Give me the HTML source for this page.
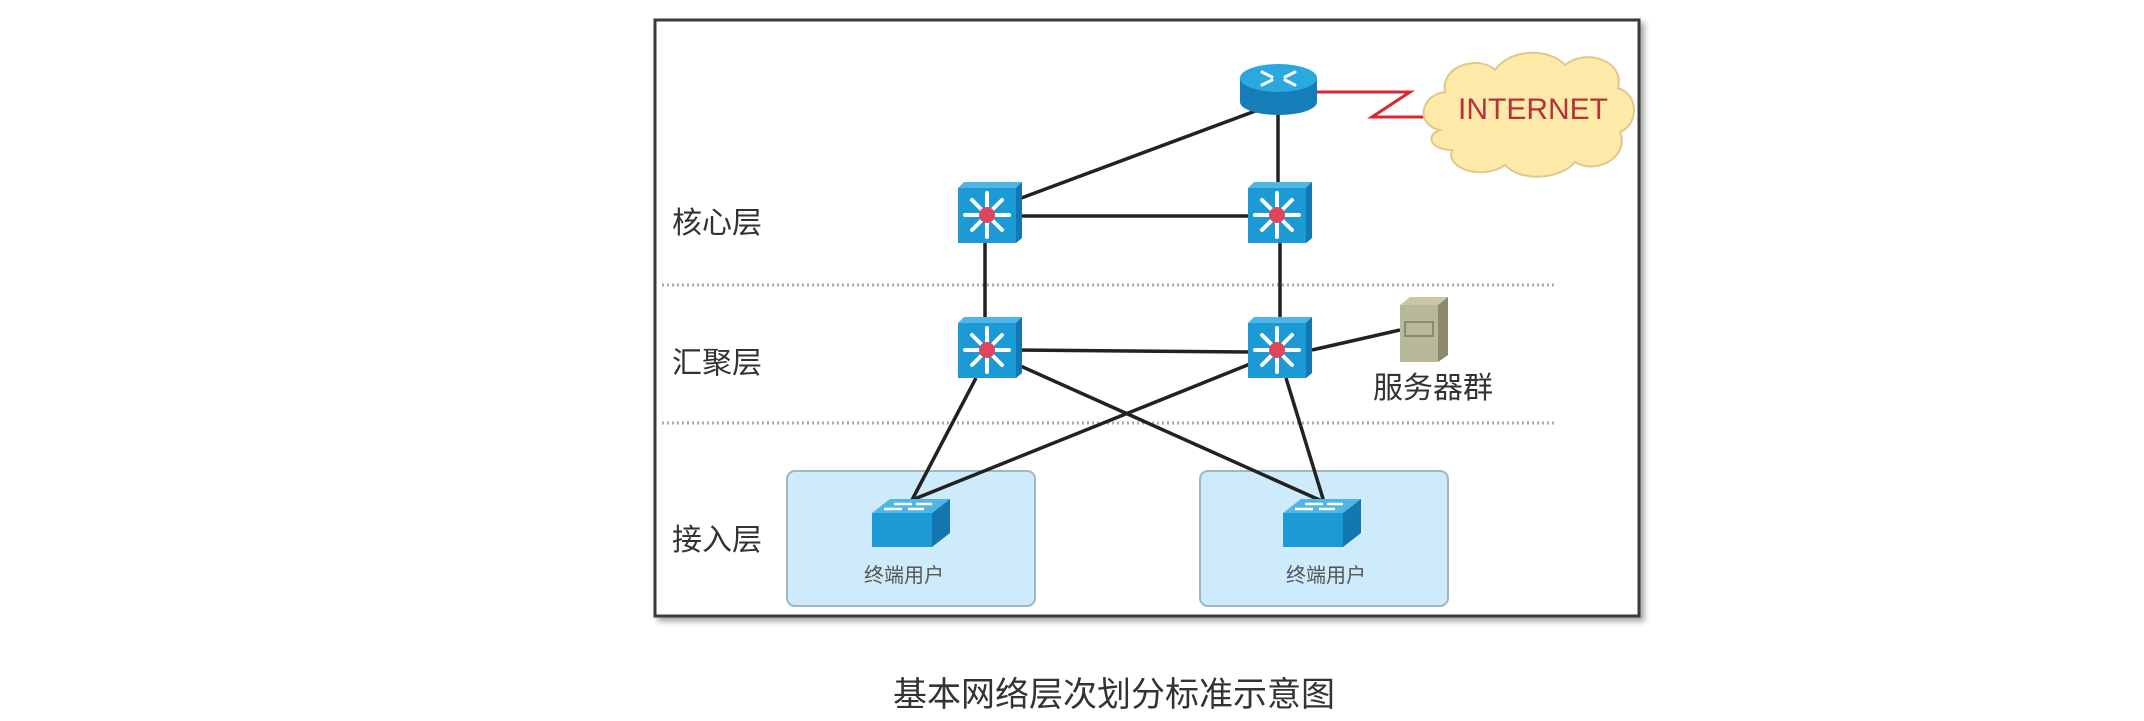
<!DOCTYPE html>
<html><head><meta charset="utf-8"><style>
html,body{margin:0;padding:0;background:#fff;}
svg{display:block;}
text{font-family:"Liberation Sans","Noto Sans CJK SC",sans-serif;}
</style></head><body>
<svg width="2144" height="721" viewBox="0 0 2144 721" xmlns="http://www.w3.org/2000/svg">
<defs>
<filter id="sh" x="-5%" y="-5%" width="115%" height="115%"><feDropShadow dx="4" dy="4" stdDeviation="3" flood-color="#000" flood-opacity="0.35"/></filter>
<g id="sw">
  <polygon points="-30,-24 -24,-30 34,-30 34,26 28,31 28,-24" fill="#4fb6e6"/>
  <polygon points="28,-24 34,-30 34,26 28,31" fill="#1477b0"/>
  <rect x="-30" y="-24" width="58" height="55" fill="#1b9ad6"/>
  <g stroke="#fff" stroke-width="4" stroke-linecap="round">
    <line x1="-1" y1="3" x2="-1" y2="-19"/><line x1="-1" y1="3" x2="-1" y2="25"/>
    <line x1="-1" y1="3" x2="-23" y2="3"/><line x1="-1" y1="3" x2="21" y2="3"/>
    <line x1="-1" y1="3" x2="-16" y2="-12"/><line x1="-1" y1="3" x2="14" y2="18"/>
    <line x1="-1" y1="3" x2="14" y2="-12"/><line x1="-1" y1="3" x2="-16" y2="18"/>
  </g>
  <circle cx="-1" cy="3" r="8" fill="#e0455e"/>
</g>
<g id="asw">
  <polygon points="-34,-8 -16,-22 44,-22 26,-8" fill="#4fb6e6"/>
  <polygon points="26,-8 44,-22 44,12 26,26" fill="#1477b0"/>
  <rect x="-34" y="-8" width="60" height="34" fill="#1b9ad6"/>
  <g stroke="#fff" stroke-width="2.5">
    <line x1="-12" y1="-17" x2="6" y2="-17"/><line x1="10" y1="-17" x2="26" y2="-17"/>
    <line x1="-22" y1="-12" x2="-4" y2="-12"/><line x1="2" y1="-12" x2="18" y2="-12"/>
  </g>
</g>
</defs>

<rect x="655" y="20" width="984" height="596" fill="#fff" stroke="#3a3a3a" stroke-width="3" filter="url(#sh)"/>

<line x1="662" y1="285" x2="1556" y2="285" stroke="#aaa" stroke-width="3" stroke-dasharray="2,3"/>
<line x1="662" y1="423" x2="1556" y2="423" stroke="#aaa" stroke-width="3" stroke-dasharray="2,3"/>

<rect x="787" y="471" width="248" height="135" rx="8" fill="#cdebfb" stroke="#9fb6c4" stroke-width="2"/>
<rect x="1200" y="471" width="248" height="135" rx="8" fill="#cdebfb" stroke="#9fb6c4" stroke-width="2"/>

<g stroke="#222" stroke-width="3.5" fill="none">
  <line x1="1258" y1="110" x2="1016" y2="200"/>
  <line x1="1278" y1="112" x2="1278" y2="185"/>
  <line x1="1016" y1="216" x2="1250" y2="216"/>
  <line x1="985" y1="243" x2="985" y2="320"/>
  <line x1="1280" y1="243" x2="1280" y2="320"/>
  <line x1="1016" y1="350" x2="1250" y2="352"/>
  <line x1="1312" y1="350" x2="1400" y2="330"/>
  <line x1="976" y1="378" x2="912" y2="500"/>
  <line x1="1016" y1="364" x2="1324" y2="502"/>
  <line x1="1250" y1="364" x2="912" y2="500"/>
  <line x1="1286" y1="378" x2="1324" y2="502"/>
</g>

<polyline points="1315,92 1410,92 1372,117 1428,117" fill="none" stroke="#d8282f" stroke-width="3"/>

<g fill="#fde9a8" stroke="#e0c88a" stroke-width="2">
  <path d="M1440,130 C1415,125 1420,95 1445,92 C1440,65 1480,55 1495,70 C1510,48 1550,48 1565,65 C1585,48 1625,60 1618,88 C1640,95 1638,125 1620,132 C1630,158 1595,175 1575,162 C1560,180 1520,182 1505,165 C1485,180 1445,170 1452,150 C1430,150 1425,135 1440,130 Z"/>
</g>
<text x="1533" y="119" font-size="30" fill="#b5333c" text-anchor="middle">INTERNET</text>

<g>
  <rect x="1240" y="78" width="77" height="24" fill="#157eb8"/>
  <ellipse cx="1278.5" cy="102" rx="38.5" ry="13" fill="#157eb8"/>
  <ellipse cx="1278.5" cy="78" rx="38.5" ry="14" fill="#2aa8e0"/>
  <g stroke="#fff" stroke-width="3" stroke-linecap="round">
    <line x1="1262" y1="72" x2="1272" y2="77"/><line x1="1295" y1="72" x2="1285" y2="77"/>
    <line x1="1262" y1="85" x2="1272" y2="80"/><line x1="1295" y1="85" x2="1285" y2="80"/>
  </g>
</g>

<use href="#sw" x="988" y="212"/>
<use href="#sw" x="1278" y="212"/>
<use href="#sw" x="988" y="347"/>
<use href="#sw" x="1278" y="347"/>

<polygon points="1400,305 1410,297 1448,297 1438,305" fill="#c8c8a8"/>
<polygon points="1438,305 1448,297 1448,355 1438,362" fill="#8a8a6a"/>
<rect x="1400" y="305" width="38" height="57" fill="#b8b89a"/>
<rect x="1405" y="322" width="28" height="14" fill="none" stroke="#8a8a70" stroke-width="2"/>
<text x="1433" y="398" font-size="30" fill="#333" text-anchor="middle">服务器群</text>

<use href="#asw" x="906" y="521"/>
<use href="#asw" x="1317" y="521"/>

<text x="904" y="582" font-size="20" fill="#555" text-anchor="middle">终端用户</text>
<text x="1326" y="582" font-size="20" fill="#555" text-anchor="middle">终端用户</text>

<text x="672" y="233" font-size="30" fill="#333">核心层</text>
<text x="672" y="373" font-size="30" fill="#333">汇聚层</text>
<text x="672" y="550" font-size="30" fill="#333">接入层</text>

<text x="1114" y="706" font-size="34" fill="#333" text-anchor="middle">基本网络层次划分标准示意图</text>
</svg>
</body></html>
